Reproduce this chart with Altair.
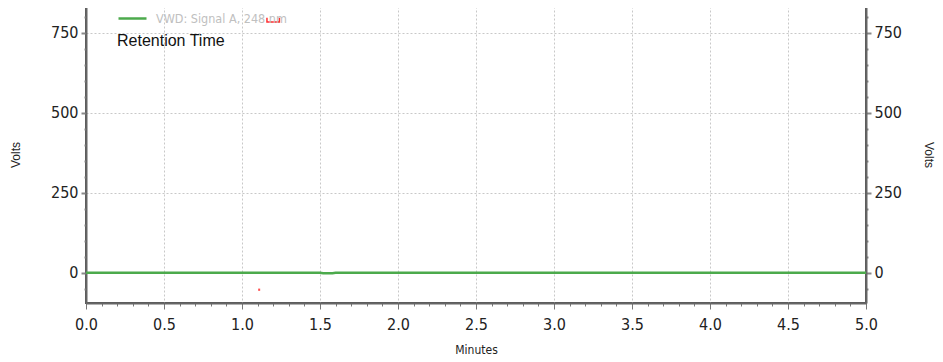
import altair as alt
import pandas as pd

# ---- data ----
series_name = "VWD: Signal A, 248 nm"
times = [0.0, 1.50, 1.52, 1.58, 1.60, 5.0]
volts = [0.5, 0.5, -0.8, -0.8, 0.3, 0.3]

marker_t = [1.11]
marker_v1 = [-49]
marker_v2 = [-56]

bracket_t = [1.16, 1.16, 1.24, 1.24]
bracket_v = [797, 784, 784, 797]
bracket_order = [0, 1, 2, 3]

x_tick_values = [0.0, 0.1, 0.2, 0.3, 0.4, 0.5, 0.6, 0.7, 0.8, 0.9, 1.0,
                 1.1, 1.2, 1.3, 1.4, 1.5, 1.6, 1.7, 1.8, 1.9, 2.0,
                 2.1, 2.2, 2.3, 2.4, 2.5, 2.6, 2.7, 2.8, 2.9, 3.0,
                 3.1, 3.2, 3.3, 3.4, 3.5, 3.6, 3.7, 3.8, 3.9, 4.0,
                 4.1, 4.2, 4.3, 4.4, 4.5, 4.6, 4.7, 4.8, 4.9, 5.0]
y_tick_values = [-50, 0, 50, 100, 150, 200, 250, 300, 350, 400, 450, 500,
                 550, 600, 650, 700, 750, 800]
x_domain = [0, 5]
y_domain = [-94, 834]

label_text = ["Retention Time"]

# ---- tables ----
line_df = pd.DataFrame({"t": times, "v": volts, "s": [series_name] * len(times)})
marker_df = pd.DataFrame({"t": marker_t, "v1": marker_v1, "v2": marker_v2})
bracket_df = pd.DataFrame({"t": bracket_t, "v": bracket_v, "o": bracket_order})
text_df = pd.DataFrame({"label": label_text})

NARROW = "DejaVu Sans Condensed, Liberation Sans Narrow, sans-serif"
REG = "Liberation Sans, Arial, sans-serif"

x_major = "abs(datum.value*2 - round(datum.value*2)) < 0.001"
y_major = "abs(datum.value/250 - round(datum.value/250)) < 0.001"

xscale = alt.Scale(domain=x_domain, nice=False, zero=False)
yscale = alt.Scale(domain=y_domain, nice=False, zero=False)

x_axis = alt.Axis(
    values=x_tick_values,
    labelExpr=f"{x_major} ? format(datum.value, '.1f') : ''",
    title="Minutes",
    titleFont=NARROW, titleFontSize=12, titleFontWeight="normal", titleColor="#222",
    titlePadding=12,
    labelFont=NARROW, labelFontSize=16, labelColor="#222", labelPadding=7,
    labelFlush=False, labelOverlap=False,
    domainColor="#666", domainWidth=2,
    tickColor="#777", tickWidth=1,
    tickSize={"condition": {"test": x_major, "value": 6}, "value": 3},
    grid=True, gridColor="#c8c8c8", gridDash=[2, 2],
    gridOpacity={"condition": {"test": x_major, "value": 1}, "value": 0},
)

y_axis_left = alt.Axis(
    values=y_tick_values,
    labelExpr=f"{y_major} ? format(datum.value, 'd') : ''",
    title="Volts", titleFont=REG, titleFontSize=12, titleFontWeight="normal",
    titleColor="#222", titlePadding=28,
    labelFont=NARROW, labelFontSize=16, labelColor="#222", labelPadding=3,
    labelOverlap=False, labelFlush=False,
    domainColor="#666", domainWidth=2,
    tickColor="#888", tickWidth=2,
    tickSize={"condition": {"test": y_major, "value": 5}, "value": 2},
    grid=True, gridColor="#c8c8c8", gridDash=[2, 2],
    gridOpacity={"condition": {"test": y_major, "value": 1}, "value": 0},
)

y_axis_right = alt.Axis(
    orient="right",
    values=y_tick_values,
    labelExpr=f"{y_major} ? format(datum.value, 'd') : ''",
    title="Volts", titleFont=REG, titleFontSize=12, titleFontWeight="normal",
    titleColor="#222", titlePadding=20,
    labelFont=NARROW, labelFontSize=16, labelColor="#222", labelPadding=3,
    labelOverlap=False, labelFlush=False,
    domainColor="#666", domainWidth=2,
    tickColor="#888", tickWidth=2,
    tickSize={"condition": {"test": y_major, "value": 5}, "value": 2},
    grid=False,
)

line = alt.Chart(line_df).mark_line(strokeWidth=2.5).encode(
    x=alt.X("t:Q", scale=xscale, axis=x_axis),
    y=alt.Y("v:Q", scale=yscale, axis=y_axis_left),
    color=alt.Color(
        "s:N",
        scale=alt.Scale(domain=[series_name], range=["#4caa4c"]),
        legend=alt.Legend(
            orient="none", legendX=31, legendY=-3, title=None,
            symbolType="stroke", symbolSize=784, symbolStrokeWidth=2.5,
            labelFont=NARROW, labelFontSize=12.5, labelColor="#c0c0c0",
            labelOffset=8, padding=0,
        ),
    ),
)

right_axis = alt.Chart(line_df).mark_line(opacity=0).encode(
    x=alt.X("t:Q", scale=xscale, axis=x_axis),
    y=alt.Y("v:Q", scale=yscale, axis=y_axis_right),
)

marker = alt.Chart(marker_df).mark_rule(color="#ff5050", strokeWidth=2).encode(
    x=alt.X("t:Q", scale=xscale, axis=x_axis),
    y=alt.Y("v1:Q", scale=yscale, axis=None),
    y2="v2:Q",
)

bracket = alt.Chart(bracket_df).mark_line(color="#ff3030", strokeWidth=1.5).encode(
    x=alt.X("t:Q", scale=xscale, axis=x_axis),
    y=alt.Y("v:Q", scale=yscale, axis=None),
    order="o:Q",
)

text = alt.Chart(text_df).mark_text(
    align="left", baseline="middle", font=REG, fontSize=16, color="#111"
).encode(
    x=alt.value(31), y=alt.value(35), text="label:N"
)

chart = alt.layer(line, right_axis, marker, bracket, text).resolve_axis(
    y="independent"
).properties(
    width=780, height=297,
    autosize=alt.AutoSizeParams(type="none"),
    padding={"left": 78, "top": -2, "right": 69, "bottom": 56},
).configure_view(stroke="#555", strokeWidth=2)

chart.save("out.html", embed_options={"renderer": "svg", "actions": False})
